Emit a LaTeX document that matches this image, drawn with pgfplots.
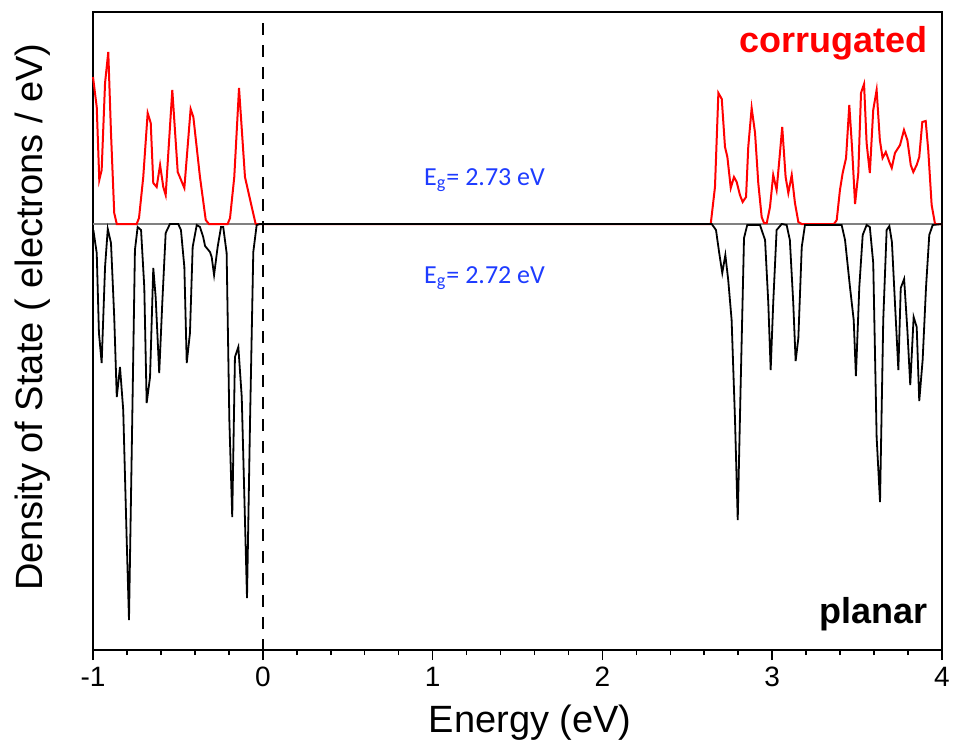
\documentclass[border=0pt]{standalone}
\usepackage{fontspec}
\setmainfont{Liberation Sans}
\newfontfamily\calibri{Carlito}
\usepackage{pgfplots}
\pgfplotsset{compat=1.18}

\definecolor{egblue}{RGB}{30,60,255}

% 1 px of the reference = 0.5pt; y values in arbitrary units
\pgfplotstableread{
E v
-1.000 147
-0.978 117
-0.963 44
-0.949 54
-0.929 141
-0.910 172
-0.894 91
-0.875 11
-0.860 0
-0.743 0
-0.729 6
-0.704 47
-0.678 111
-0.660 101
-0.645 41
-0.625 37
-0.605 59
-0.586 37
-0.572 29
-0.533 134
-0.501 52
-0.462 36
-0.425 115
-0.409 107
-0.370 47
-0.336 4
-0.317 0
-0.207 0
-0.193 6
-0.168 47
-0.140 136
-0.105 47
-0.065 17
-0.042 0
2.638 0
2.663 37
2.683 131
2.703 125
2.722 77
2.736 67
2.756 36
2.775 47
2.791 42
2.810 29
2.826 22
2.846 27
2.859 77
2.879 116
2.899 91
2.918 41
2.938 7
2.952 1
2.968 1
2.987 17
3.006 49
3.026 34
3.042 64
3.059 97
3.079 47
3.095 31
3.115 49
3.134 21
3.154 2
3.174 0
3.364 0
3.380 4
3.399 34
3.415 51
3.435 66
3.454 119
3.470 77
3.488 20
3.507 51
3.523 131
3.541 140
3.556 81
3.575 51
3.595 114
3.615 134
3.634 84
3.650 66
3.669 72
3.690 62
3.704 56
3.723 71
3.753 79
3.776 94
3.796 84
3.816 59
3.831 52
3.851 59
3.866 67
3.884 102
3.904 103
3.919 74
3.939 19
3.959 0
4.000 0
}\corrugated

\pgfplotstableread{
E v
-0.998 -6
-0.978 -29
-0.965 -109
-0.949 -139
-0.929 -43
-0.913 -5
-0.894 -19
-0.875 -93
-0.860 -173
-0.841 -143
-0.822 -186
-0.802 -313
-0.788 -396
-0.772 -229
-0.753 -26
-0.737 -3
-0.717 -6
-0.698 -63
-0.684 -179
-0.664 -153
-0.645 -44
-0.631 -73
-0.610 -149
-0.592 -79
-0.572 -9
-0.547 0
-0.498 0
-0.482 -6
-0.462 -43
-0.448 -139
-0.429 -109
-0.413 -23
-0.389 -1
-0.370 -3
-0.351 -13
-0.340 -22
-0.311 -28
-0.301 -33
-0.287 -51
-0.266 -23
-0.246 -3
-0.233 -3
-0.213 -29
-0.197 -196
-0.180 -293
-0.164 -133
-0.144 -123
-0.124 -173
-0.093 -374
-0.075 -196
-0.056 -28
-0.036 -1
-0.017 0
2.644 0
2.669 -6
2.688 -29
2.706 -49
2.724 -31
2.741 -56
2.761 -96
2.781 -196
2.797 -296
2.814 -163
2.834 -14
2.853 -1
2.928 -1
2.958 -16
2.977 -79
2.991 -146
3.006 -79
3.026 -6
3.056 0
3.085 -1
3.104 -16
3.124 -79
3.138 -137
3.154 -114
3.174 -23
3.193 -1
3.409 -1
3.429 -16
3.458 -63
3.480 -96
3.493 -152
3.513 -63
3.533 -11
3.556 -1
3.575 -3
3.595 -39
3.615 -213
3.635 -278
3.654 -96
3.674 -6
3.690 -2
3.705 -18
3.723 -79
3.743 -146
3.757 -64
3.777 -55
3.796 -106
3.813 -161
3.833 -93
3.851 -103
3.866 -177
3.886 -136
3.906 -63
3.925 -11
3.945 -1
4.000 0
}\planar

\begin{document}
\begin{tikzpicture}
\begin{axis}[
  scale only axis,
  width=424.5pt, height=319pt,
  xmin=-1, xmax=4,
  ymin=-426, ymax=212,
  axis line style={line width=1pt},
  xtick={-1,0,1,2,3,4},
  xticklabels={-1,0,1,2,3,4},
  minor x tick num=4,
  xtick pos=bottom,
  tick align=outside,
  major tick length=5pt,
  minor tick length=2.5pt,
  tick style={line width=0.8pt, black},
  ytick=\empty,
  xticklabel style={font=\fontsize{14}{16}\selectfont},
  xlabel={Energy (eV)},
  ylabel={Density of State ( electrons / eV)},
  label style={font=\fontsize{19}{22}\selectfont},
  xlabel style={at={(axis description cs:0.515,-0.130)}, anchor=base},
  ylabel style={at={(axis description cs:-0.060,0.522)}, anchor=base},
  clip=false,
]
\addplot[gray, line width=0.6pt, forget plot] coordinates {(-1,0) (4,0)};
\addplot[red, line width=1pt] table[x=E, y=v] {\corrugated};
\addplot[black, line width=0.9pt] table[x=E, y=v] {\planar};
\addplot[black, line width=1.2pt, dash pattern=on 6pt off 5pt] coordinates {(0,201) (0,-426)};

\node[anchor=base east, inner sep=0pt, text=red,
  font=\bfseries\fontsize{18}{20}\selectfont] at (axis cs:3.917,172) {corrugated};
\node[anchor=base east, inner sep=0pt, text=black,
  font=\bfseries\fontsize{18}{20}\selectfont] at (axis cs:3.917,-399) {planar};
\node[anchor=base, inner sep=0pt, text=egblue,
  font=\calibri\fontsize{13}{15}\selectfont] at (axis cs:1.306,39) {E\textsubscript{g}= 2.73 eV};
\node[anchor=base, inner sep=0pt, text=egblue,
  font=\calibri\fontsize{13}{15}\selectfont] at (axis cs:1.306,-59) {E\textsubscript{g}= 2.72 eV};
\end{axis}
\pgfresetboundingbox
\path ([xshift=-46.5pt, yshift=-48pt]current axis.south west)
  rectangle ([xshift=6pt, yshift=6pt]current axis.north east);
\end{tikzpicture}
\end{document}
